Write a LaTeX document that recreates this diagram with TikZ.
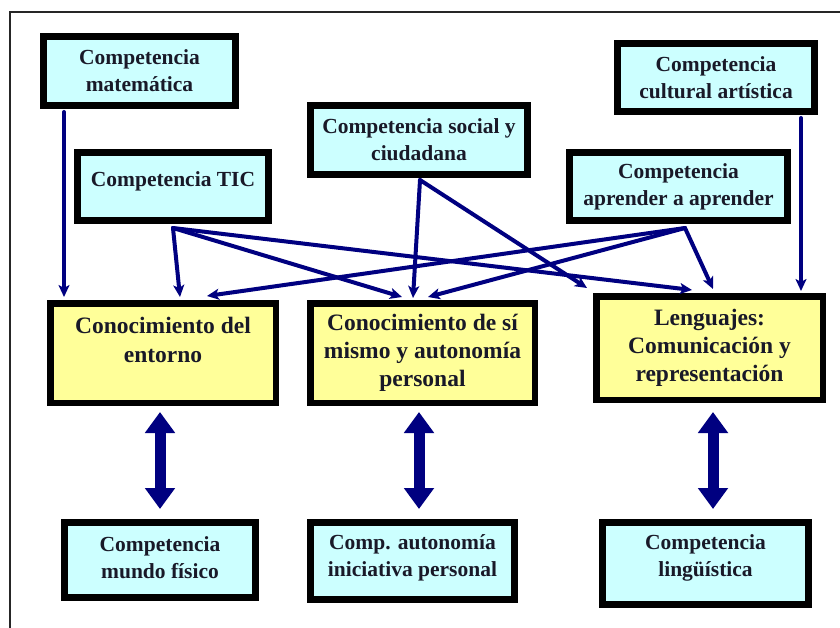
\documentclass[tikz,border=0pt]{standalone}
\usepackage{fontspec}
\setmainfont{Liberation Serif}
\usetikzlibrary{arrows.meta,calc}
\definecolor{cyanfill}{RGB}{204,255,255}
\definecolor{yelfill}{RGB}{255,255,153}
\definecolor{navyc}{RGB}{0,0,128}
\definecolor{txtc}{RGB}{25,25,40}
\begin{document}
\begin{tikzpicture}[x=1pt,y=-1pt,
  cbox/.style={draw=black, line width=7pt, fill=cyanfill, inner sep=0pt, align=center, text=txtc, font=\bfseries\fontsize{21.5}{27}\selectfont},
  ybox/.style={draw=black, line width=6.5pt, fill=yelfill, inner sep=0pt, align=center, text=txtc, font=\bfseries\fontsize{23.5}{28.3}\selectfont},
  ctext/.style={inner sep=0pt, align=center, text=txtc, font=\bfseries\fontsize{21.5}{27}\selectfont},
  ytext/.style={inner sep=0pt, align=center, text=txtc, font=\bfseries\fontsize{23.5}{28.3}\selectfont},
  conn/.style={draw=navyc, line width=4pt, line cap=round, -{Stealth[length=12pt,width=11pt,inset=3pt]}},
  dbl/.style={draw=navyc, line width=11pt, {Triangle[length=21pt,width=29pt]}-{Triangle[length=21pt,width=29pt]}},
  framel/.style={draw=black!85, line width=1.4pt}
]
\useasboundingbox (0,0) rectangle (840,628);
\fill[white] (0,0) rectangle (840,628);
\draw[framel] (10,628) -- (10,12) -- (840,12);

% top cyan boxes
\node[cbox, minimum width=192pt, minimum height=69pt] (mat) at (139.5,71) {Competencia\\matemática};
\node[cbox, minimum width=191pt, minimum height=68pt] (tic) at (173,186.5) {};
\node[ctext] (tict) at ($(tic)+(0,-5.5)$) {Competencia TIC};
\node[cbox, minimum width=217pt, minimum height=69pt] (soc) at (419,140) {Competencia social y\\ciudadana};
\node[cbox, minimum width=197pt, minimum height=68pt] (cul) at (716,77.5) {Competencia\\cultural artística};
\node[cbox, minimum width=218pt, minimum height=68pt] (apr) at (678.5,186.5) {Competencia\\aprender a aprender};

% yellow boxes
\node[ybox, minimum width=225.5pt, minimum height=99.5pt] (ent) at (163,353) {};
\node[ytext] (entt) at ($(ent)+(0,-13)$) {Conocimiento del\\entorno};
\node[ybox, minimum width=224.5pt, minimum height=99.5pt] (si) at (422.5,353) {Conocimiento de sí\\mismo y autonomía\\personal};
\node[ybox, minimum width=226.5pt, minimum height=103.5pt] (len) at (709.5,348) {Lenguajes:\\Comunicación y\\representación};

% bottom cyan boxes
\node[cbox, minimum width=191pt, minimum height=75pt] (mf) at (160,560) {};
\node[ctext] (mft) at ($(mf)+(0,-2.5)$) {Competencia\\mundo físico};
\node[cbox, minimum width=204pt, minimum height=77pt] (aut) at (412.5,561) {};
\node[ctext] (autt) at ($(aut)+(0,-3.5)$) {Comp. autonomía\\iniciativa personal};
\node[cbox, minimum width=206pt, minimum height=82pt] (ling) at (705.5,563.5) {};
\node[ctext] (lingt) at ($(ling)+(0,-6)$) {Competencia\\lingüística};

% origin points of the fan-out connectors
\coordinate (ticO) at ($(tic.south west)+(99,4)$);
\coordinate (socO) at ($(soc.south west)+(113,2)$);
\coordinate (aprO) at ($(apr.south west)+(119,4)$);

% thin connectors
\draw[conn] ($(mat.south west)+(24,3)$) -- ($(ent.north west)+(17,-3)$);
\draw[conn] ($(cul.south west)+(187,3)$) -- ($(len.north west)+(208,-2)$);

\draw[conn] (ticO) -- ($(ent.north west)+(133,-3)$);
\draw[conn] (ticO) -- ($(si.north west)+(95,-3)$);
\draw[conn] (ticO) -- ($(len.north west)+(99,-3)$);

\draw[conn] (socO) -- ($(si.north west)+(106,-2)$);
\draw[conn] (socO) -- ($(len.north west)+(-6,-5)$);

\draw[conn] (aprO) -- ($(ent.north west)+(160,-4)$);
\draw[conn] (aprO) -- ($(si.north west)+(121,-3)$);
\draw[conn] (aprO) -- ($(len.north west)+(120,-4)$);

% double arrows
\draw[dbl] ($(mf.north)+(0,-107)$) -- ($(mf.north)+(0,-10)$);
\draw[dbl] ($(aut.north)+(6.5,-107)$) -- ($(aut.north)+(6.5,-10)$);
\draw[dbl] ($(ling.north)+(7.5,-107)$) -- ($(ling.north)+(7.5,-10)$);
\end{tikzpicture}
\end{document}
